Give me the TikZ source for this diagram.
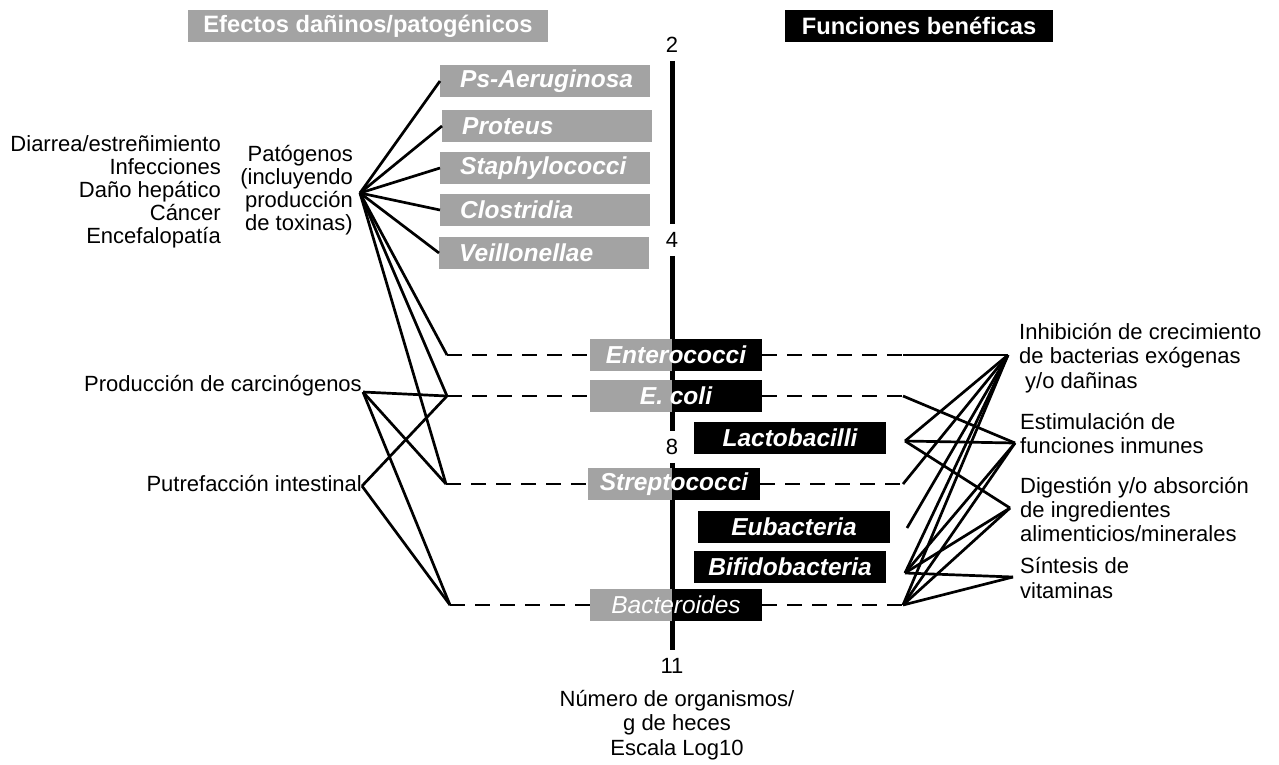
\documentclass[tikz,border=0pt]{standalone}
\usepackage{fontspec}
\setmainfont{Liberation Sans}
\usepackage{tikz}

\definecolor{boxgray}{RGB}{163,163,163}

\begin{document}
\begin{tikzpicture}[x=1pt, y=-1pt,
    txt/.style={inner sep=0pt, font=\fontsize{22}{23}\selectfont},
    head/.style={minimum height=32pt, inner sep=0pt, text=white, font=\fontsize{23.7}{26}\selectfont\bfseries},
    bug/.style={minimum height=32pt, inner sep=0pt, text=white, font=\fontsize{24.5}{26}\selectfont\bfseries\itshape},
    badbug/.style={bug, fill=boxgray, anchor=west, text width=170pt, inner xsep=20pt, align=left},
    goodbug/.style={bug, fill=black, minimum width=192pt},
    bothbug/.style={bug, fill=boxgray, minimum width=172pt,
        path picture={\fill[black] (path picture bounding box.north east) rectangle (path picture bounding box.south west -| ax);}},
    link/.style={line width=2.7pt},
    dashlink/.style={line width=2.9pt, dash pattern=on 15pt off 10pt},
    axisline/.style={line width=5pt}]
    \useasboundingbox (0,0) rectangle (1279,764);

    % Headers
    \node[head, fill=boxgray, minimum width=360pt] (hbad) at (368,26) {Efectos dañinos/patogénicos};
    \node[head, fill=black, minimum width=268pt] (hgood) at (919,26) {Funciones benéficas};

    % Log scale
    \coordinate (ax) at (672,0);
    \node[txt, inner sep=8pt] (n2) at (672,45) {2};
    \node[txt, inner sep=8pt] (n4) at (672,240) {4};
    \node[txt, inner sep=8pt] (n8) at (672,447) {8};
    \node[txt, inner sep=8pt] (n11) at (672,666) {11};
    \draw[axisline] (n2) -- (n4);
    \draw[axisline] (n4) -- (n8);
    \draw[axisline] (n8) -- (n11);
    \node[txt, align=center, anchor=north, font=\fontsize{22}{24.5}\selectfont] (scale) at (677,690) {Número de organismos/\\g de heces\\Escala Log10};

    % Harmful bacteria
    \node[badbug] (psa) at (440,81) {\mbox{Ps-Aeruginosa}};
    \node[badbug] (prot) at (442,126) {Proteus};
    \node[badbug] (staph) at (440,168) {Staphylococci};
    \node[badbug] (clos) at (440,210) {Clostridia};
    \node[badbug] (veil) at (439,253) {Veillonellae};

    % Bacteria on both sides
    \node[bothbug] (entero) at (676,355) {Enterococci};
    \node[bothbug] (ecoli) at (676,396) {E. coli};
    \node[bothbug] (strepto) at (674,484) {Streptococci};
    \node[bothbug, font=\fontsize{24.5}{26}\selectfont\itshape] (bactero) at (676,605) {Bacteroides};

    % Beneficial bacteria
    \node[goodbug] (lacto) at (790,438) {Lactobacilli};
    \node[goodbug] (eubac) at (794,527) {Eubacteria};
    \node[goodbug] (bifido) at (790,567) {Bifidobacteria};

    % Harmful effects
    \node[txt, align=right, anchor=north east] (effects) at (221,135) {Diarrea/estreñimiento\\Infecciones\\Daño hepático\\Cáncer\\Encefalopatía};
    \node[txt, align=right, anchor=north east] (patho) at (353,145) {Patógenos\\(incluyendo\\producción\\de toxinas)};
    \node[txt, anchor=base east] (carcino) at (362,391) {Producción de carcinógenos};
    \node[txt, anchor=base east] (putre) at (362,491) {Putrefacción intestinal};

    % Beneficial functions
    \node[txt, align=left, anchor=north west, font=\fontsize{22}{24.5}\selectfont] (inhib) at (1019,323) {Inhibición de crecimiento\\de bacterias exógenas\\\hspace*{6pt}y/o dañinas};
    \node[txt, align=left, anchor=north west, font=\fontsize{22}{24}\selectfont] (immune) at (1020,413) {Estimulación de\\funciones inmunes};
    \node[txt, align=left, anchor=north west, font=\fontsize{22}{24}\selectfont] (digest) at (1020,477) {Digestión y/o absorción\\de ingredientes\\alimenticios/minerales};
    \node[txt, align=left, anchor=north west, font=\fontsize{22}{25}\selectfont] (vitam) at (1020,557) {Síntesis de\\vitaminas};

    % Hubs and line ends
    \coordinate (pHub) at (360,193);
    \coordinate (cHub) at (363,392);
    \coordinate (uHub) at (362,486);
    \coordinate (iHub) at (1008,355);
    \coordinate (sHub) at (1015,443);
    \coordinate (dHub) at (1010,508);
    \coordinate (vHub) at (1013,577);
    \coordinate (entero-w) at (447,355);
    \coordinate (ecoli-w) at (447,396);
    \coordinate (strepto-w) at (446,484);
    \coordinate (bactero-w) at (450,605);
    \coordinate (entero-e) at (903,355);
    \coordinate (ecoli-e) at (903,396);
    \coordinate (strepto-e) at (903,484);
    \coordinate (bactero-e) at (903,605);
    \coordinate (lactoP) at (905,441);
    \coordinate (eubacP) at (907,528);
    \coordinate (bifidoP) at (905,573);

    % Dashed rows
    \foreach \b in {entero,ecoli,strepto,bactero} {
        \draw[dashlink] (\b-w) -- (\b.west);
        \draw[dashlink] (\b.east) -- (\b-e);
    }

    % Left connectors
    \foreach \b in {psa,prot,staph,clos,veil}
        \draw[link] (pHub) -- (\b.west);
    \foreach \e in {entero-w,ecoli-w,strepto-w}
        \draw[link] (pHub) -- (\e);
    \foreach \e in {ecoli-w,strepto-w,bactero-w}
        \draw[link] (cHub) -- (\e);
    \foreach \e in {ecoli-w,bactero-w}
        \draw[link] (uHub) -- (\e);

    % Right connectors
    \draw[link] (entero-e) -- (iHub);
    \draw[link] (ecoli-e) -- (sHub);
    \draw[link] (strepto-e) -- (iHub);
    \draw[link] (eubacP) -- (iHub);
    \foreach \h in {iHub,sHub,dHub}
        \draw[link] (lactoP) -- (\h);
    \foreach \h in {iHub,sHub,dHub,vHub} {
        \draw[link] (bifidoP) -- (\h);
        \draw[link] (bactero-e) -- (\h);
    }
\end{tikzpicture}
\end{document}
